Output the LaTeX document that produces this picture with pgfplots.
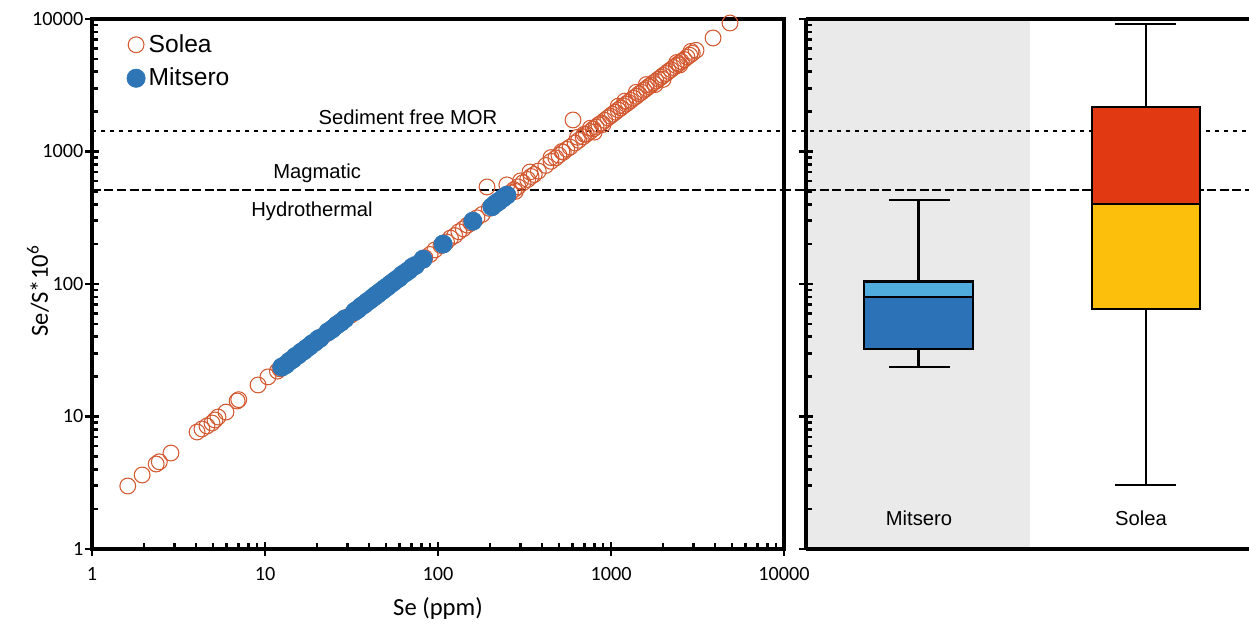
\documentclass[border=0pt]{standalone}
\usepackage{pgfplots}
\pgfplotsset{compat=1.18}
\usepackage{fontspec}
\setmainfont{Liberation Sans}
\newfontfamily\carlito{Carlito}

\definecolor{soleaC}{RGB}{210,88,48}
\definecolor{mitC}{RGB}{46,117,182}
\definecolor{bgGray}{RGB}{234,234,234}
\definecolor{boxDark}{RGB}{44,114,183}
\definecolor{boxLight}{RGB}{79,172,220}
\definecolor{boxRed}{RGB}{225,58,18}
\definecolor{boxYel}{RGB}{251,191,12}

\tikzset{
  sedline/.style={line width=1.5pt, dash pattern=on 0.08cm off 0.1cm},
  hydline/.style={line width=1.5pt, dash pattern=on 0.18cm off 0.07cm},
  whisk/.style={line width=1.3pt, black},
  boxst/.style={draw=black, line width=1.5pt},
}

\begin{document}
\begin{tikzpicture}
\useasboundingbox (0,0) rectangle (24.98cm,12.5cm);

% scatter panel
\begin{axis}[
  scale only axis, clip=false,
  at={(1.84cm,1.52cm)}, anchor=south west,
  width=13.84cm, height=10.6cm,
  xmode=log, ymode=log, xmin=1, xmax=10000, ymin=1, ymax=10000,
  axis line style={line width=2pt},
  tick style={line width=1.5pt, black},
  tick align=inside,
  major tick length=0.28cm, minor tick length=0.12cm,
  every major y tick/.append style={xshift=-0.14cm},
  every major x tick/.append style={yshift=-0.14cm},
  xtick={1,10,100,1000,10000}, xticklabels={1,10,100,1000,10000},
  ytick={1,10,100,1000,10000}, yticklabels={1,10,100,1000,10000},
  xtick pos=bottom, ytick pos=left,
  xticklabel style={font=\carlito\fontsize{11.5}{13}\selectfont, yshift=-0.25cm},
  yticklabel style={font=\carlito\fontsize{11.5}{13}\selectfont, xshift=-0.05cm},
  xlabel={Se (ppm)}, ylabel={Se/S*10\textsuperscript{6}},
  every axis x label/.style={at={(axis description cs:0.5,-0.112)}, anchor=center,
    font=\carlito\fontsize{14}{16}\selectfont},
  every axis y label/.style={at={(axis description cs:-0.078,0.487)}, rotate=90, anchor=center,
    font=\carlito\fontsize{14}{16}\selectfont},
  legend style={at={(axis description cs:0.05,0.978)}, anchor=north west,
    draw=none, fill=none, font=\fontsize{14}{16}\selectfont, row sep=0.12cm,
    inner sep=0pt},
  legend cell align=left,
  legend image code/.code={\draw[mark repeat=2,mark phase=2,#1] plot coordinates {(0cm,0cm)(0.18cm,0cm)(0.36cm,0cm)};},
]
\addplot[sedline, forget plot] coordinates {(1,1428)(10000,1428)};
\addplot[hydline, forget plot] coordinates {(1,512)(10000,512)};

\addplot[only marks, mark=o, mark size=4.5pt, soleaC, mark options={line width=0.6pt}]
coordinates {
(1.61,2.99)(1.95,3.62)(2.35,4.38)(2.45,4.55)(2.86,5.30)(4.05,7.64)(4.32,8.05)(4.62,8.48)
(4.94,8.93)(5.14,9.41)(5.35,9.91)(5.95,10.8)(6.9,13.1)(7.05,13.4)(9.12,17.3)(10.4,19.9)
(11.8,22.0)(12.2,22.9)(21.5,40.5)(22.3,41.6)(30.0,56.5)(31.5,58.4)(38,71)(47,88)(60,112)
(76,141)(84,158)(90,167)(96,181)
(104,195)(112,208)(118,222)(125,232)(132,248)(140,261)(148,278)(155,289)(168,316)(180,335)
(192,540)(198,372)(210,391)(222,418)(235,437)(250,470)(262,489)(275,516)(290,541)(310,582)
(330,615)(345,648)(360,670)(380,712)(250,560)(300,600)(340,700)(280,500)
(420,785)(450,843)(480,895)(500,938)(530,988)(555,1040)(580,1080)(603,1730)(620,1160)
(650,1215)(690,1290)(720,1350)(760,1415)(790,1480)(820,1530)(850,1595)(880,1640)(920,1720)
(960,1795)(990,1850)(700,1350)(800,1400)(900,1600)(1100,2200)(1400,2800)(2000,3500)(2500,4500)
(450,900)(520,1000)(640,1280)(760,1500)(1200,2400)(1600,3200)(1800,3200)(2400,4700)(2900,5700)
(1020,1910)(1060,1980)(1100,2060)(1140,2130)(1180,2210)(1220,2280)(1260,2350)(1300,2430)
(1350,2530)(1400,2610)(1450,2720)(1500,2800)(1550,2900)(1600,2990)(1650,3090)(1700,3170)
(1760,3300)(1820,3400)(1880,3520)(1950,3640)(2000,3750)(2080,3880)(2150,4030)(2220,4150)
(2300,4300)(2380,4450)(2460,4600)(2550,4770)(2650,4950)(2750,5150)(2850,5330)(2950,5510)
(3100,5800)(3890,7190)(4875,9330)
};
\addlegendentry{Solea}

\addplot[only marks, mark=*, mark size=5.2pt, mitC, mark options={draw=mitC, fill=mitC}]
coordinates {
(12.5,23.6)(13.2,24.6)(13.8,26.0)(14.5,27.1)(15.0,28.4)(15.6,29.2)(16.2,30.6)(16.8,31.4)
(17.3,32.6)(18.0,33.7)(18.7,35.3)(19.5,36.5)(20.3,38.3)(20.8,38.9)(23.1,43.5)(24.5,45.8)
(26.0,49.0)(27.5,51.5)(29.0,54.6)(33,62)(34.5,64.5)(36,67.8)(37.5,70.2)(39,73.4)(40.5,75.8)
(42,79.0)(43,80.4)(44,82.8)(45,84.2)(46.5,87.4)(48,89.8)(49.5,93.1)(51,95.4)(53,99.6)(55,103)
(57,107)(59.5,111)(62,117)(65,122)(68,127)(71,134)(74,138)(82,154)(107,200)(159,298)
(205,383)(215,404)(225,421)(238,446)(250,468)
};
\addlegendentry{Mitsero}

\node[font=\fontsize{11.5}{13}\selectfont] at (axis cs:67.1,1820) {Sediment free MOR};
\node[font=\fontsize{11.5}{13}\selectfont] at (axis cs:20,689) {Magmatic};
\node[font=\fontsize{11.5}{13}\selectfont] at (axis cs:18.7,356) {Hydrothermal};
\end{axis}

% box plot panel
\begin{axis}[
  scale only axis, clip=false,
  at={(16.12cm,1.52cm)}, anchor=south west,
  width=8.86cm, height=10.6cm,
  ymode=log, ymin=1, ymax=10000, xmin=0, xmax=443,
  axis line style={line width=2pt},
  tick style={line width=1.5pt, black},
  tick align=inside,
  major tick length=0.28cm, minor tick length=0.12cm,
  every major y tick/.append style={xshift=-0.14cm},
  axis x line*=box, axis y line*=left,
  xtick=\empty, ytick={1,10,100,1000,10000}, yticklabels={},
  axis on top,
]
\addplot[fill=bgGray, draw=none] coordinates {(0,1)(224,1)(224,10000)(0,10000)} -- cycle;
\addplot[sedline] coordinates {(-14,1428)(443,1428)};
\addplot[hydline] coordinates {(-24,512)(443,512)};

% Mitsero
\addplot[whisk] coordinates {(112.5,105)(112.5,430)};
\addplot[whisk] coordinates {(83,430)(144,430)};
\addplot[whisk] coordinates {(112.5,32.3)(112.5,23.6)};
\addplot[whisk] coordinates {(83,23.6)(144,23.6)};
\addplot[boxst, fill=boxDark] coordinates {(58,32.3)(167,32.3)(167,80)(58,80)} -- cycle;
\addplot[boxst, fill=boxLight] coordinates {(58,80)(167,80)(167,105)(58,105)} -- cycle;

% Solea
\addplot[whisk] coordinates {(340,2167)(340,9170)};
\addplot[whisk] coordinates {(309,9170)(370,9170)};
\addplot[whisk] coordinates {(340,64.8)(340,3.04)};
\addplot[whisk] coordinates {(309,3.04)(370,3.04)};
\addplot[boxst, fill=boxYel] coordinates {(286,64.8)(394,64.8)(394,401)(286,401)} -- cycle;
\addplot[boxst, fill=boxRed] coordinates {(286,401)(394,401)(394,2167)(286,2167)} -- cycle;

\node[font=\fontsize{11.5}{13}\selectfont] at (axis cs:113,1.71) {Mitsero};
\node[font=\fontsize{11.5}{13}\selectfont] at (axis cs:335,1.71) {Solea};
\end{axis}
\end{tikzpicture}
\end{document}
